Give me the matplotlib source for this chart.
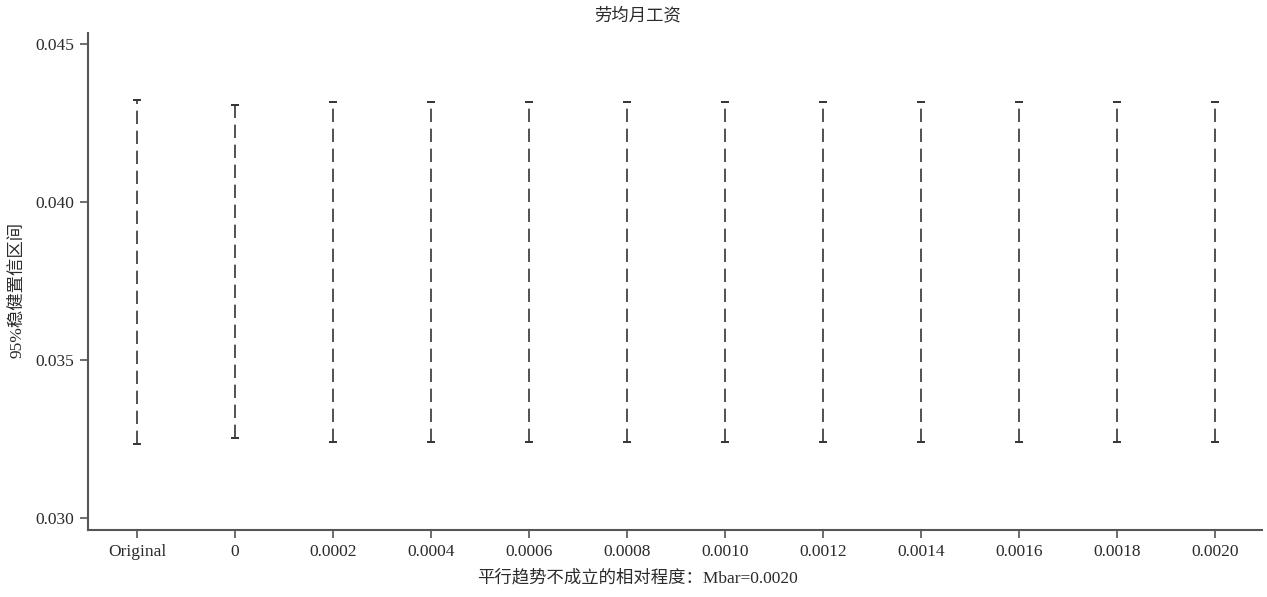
import matplotlib
matplotlib.use("Agg")
import matplotlib.pyplot as plt
import numpy as np

# Sensitivity analysis: robust 95% confidence intervals by relative magnitude
categories = ["Original", "0", "0.0002", "0.0004", "0.0006", "0.0008",
              "0.0010", "0.0012", "0.0014", "0.0016", "0.0018", "0.0020"]
ci_upper = [0.04323, 0.04307, 0.04317, 0.04317, 0.04317, 0.04317,
            0.04317, 0.04317, 0.04317, 0.04317, 0.04317, 0.04317]
ci_lower = [0.03234, 0.03253, 0.03241, 0.03241, 0.03241, 0.03241,
            0.03241, 0.03241, 0.03241, 0.03241, 0.03241, 0.03241]
y_ticks = [0.030, 0.035, 0.040, 0.045]

title_text = "劳均月工资"
x_label = "平行趋势不成立的相对程度：Mbar=0.0020"
y_label = "95%稳健置信区间"

fonts = ["Liberation Serif", "Noto Sans CJK SC"]
plt.rcParams["font.family"] = fonts
text_color = "#2b2b2b"
line_color = "#333333"
spine_color = "#555555"

fig = plt.figure(figsize=(12.67, 5.97), dpi=100)
ax = fig.add_axes([0.0695, 0.1122, 0.9265, 0.8325])

x = np.arange(len(categories))
upper = np.array(ci_upper)
lower = np.array(ci_lower)
mid = (upper + lower) / 2
half = (upper - lower) / 2

_, caps, bars = ax.errorbar(x, mid, yerr=half, fmt="none", ecolor=line_color,
                            elinewidth=1.2, capsize=3, capthick=1.4)
for b in bars:
    b.set_linestyle((0, (8, 4)))

ax.set_xlim(-0.5, 11.48)
ax.set_ylim(0.02962, 0.04535)
ax.set_xticks(x)
ax.set_xticklabels(categories)
ax.set_yticks(y_ticks)
ax.set_yticklabels([f"{v:.3f}" for v in y_ticks])

for s in ("top", "right"):
    ax.spines[s].set_visible(False)
for s in ("left", "bottom"):
    ax.spines[s].set_color(spine_color)
    ax.spines[s].set_linewidth(1.5)

ax.tick_params(axis="both", direction="out", length=6, width=1.2,
               color=spine_color, labelsize=12.5, labelcolor=text_color, pad=4)

fig.text(0.503, 0.973, title_text, ha="center", va="center",
         fontsize=12.5, color=text_color)
fig.text(0.503, 0.032, x_label, ha="center", va="center",
         fontsize=12.5, color=text_color)
fig.text(0.014, 0.515, y_label, ha="center", va="center", rotation=90,
         fontsize=12.5, color=text_color)

fig.savefig("out.png", dpi=100, facecolor="white")
